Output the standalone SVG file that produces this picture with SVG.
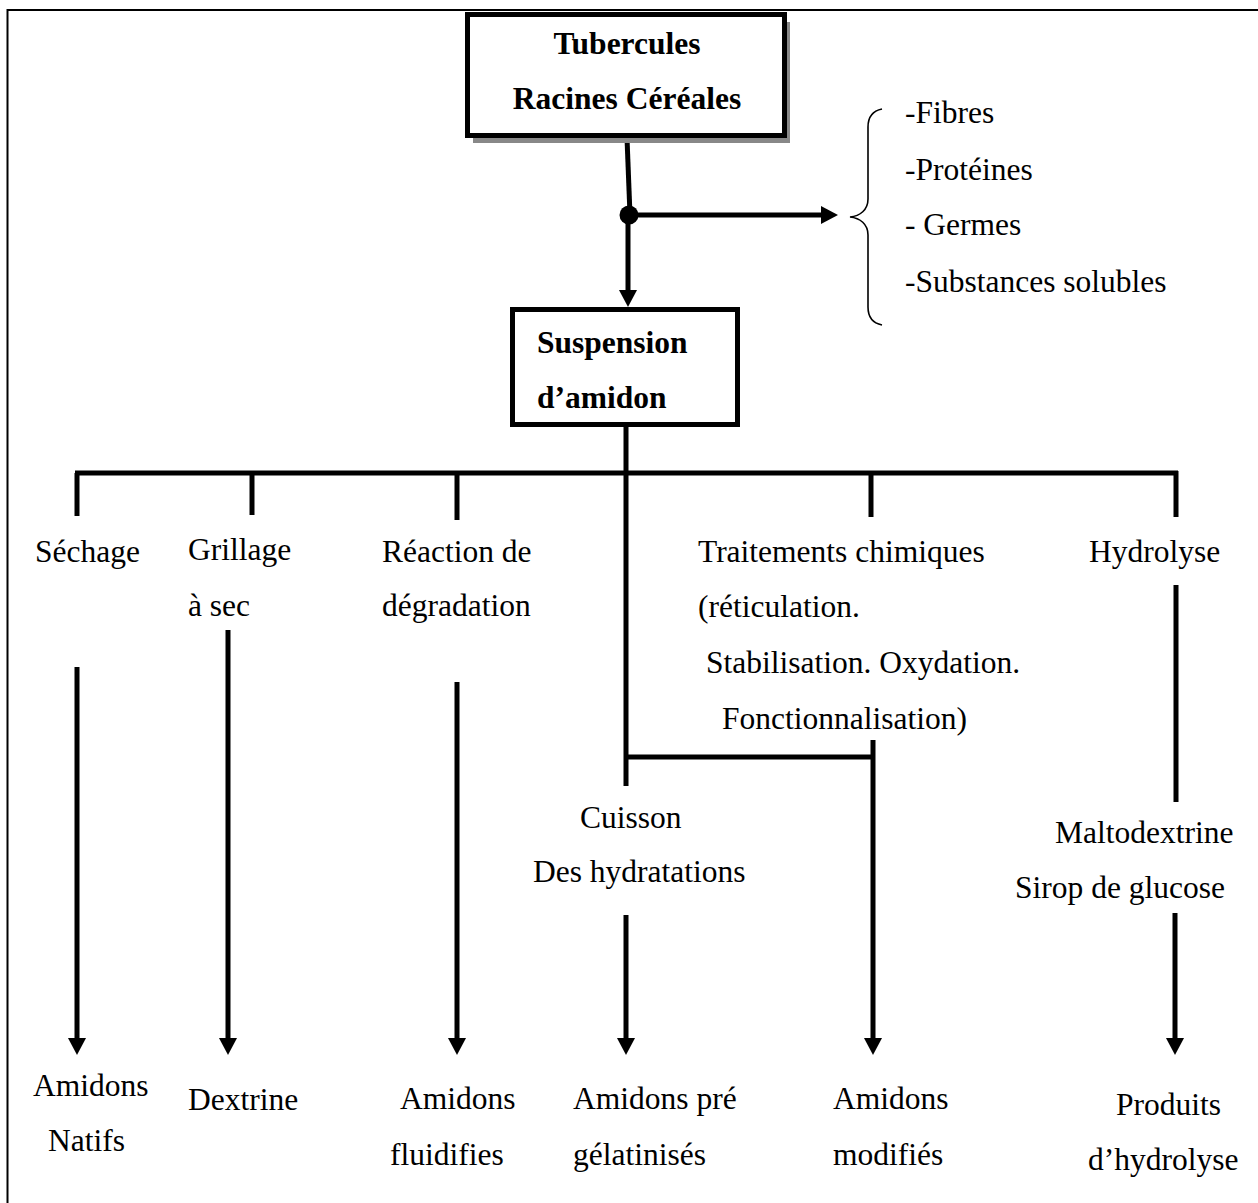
<svg xmlns="http://www.w3.org/2000/svg" width="1258" height="1203" viewBox="0 0 1258 1203">
<style>
text{font-family:"Liberation Serif","Times New Roman",serif;font-size:31.5px;fill:#000}
.b{font-weight:bold}
.c{text-anchor:middle}
.ln{stroke:#000;stroke-width:5;fill:none}
.box{stroke:#000;stroke-width:5;fill:#fff}
</style>
<defs>
<marker id="ah" markerUnits="userSpaceOnUse" markerWidth="18" markerHeight="18" refX="0" refY="9" orient="auto" viewBox="0 0 18 18">
<path d="M0,0 L17,9 L0,18 z" fill="#000"/>
</marker>
</defs>
<rect x="0" y="0" width="1258" height="1203" fill="#fff"/>
<g id="frame">
<path d="M7.5,1203 V10 H1258" stroke="#000" stroke-width="2" fill="none"/>
</g>
<g id="connectors">
<path class="ln" d="M627,138 L630,215"/>
<circle cx="629" cy="215" r="9.5" fill="#000"/>
<line class="ln" x1="629" y1="215" x2="821" y2="215" marker-end="url(#ah)"/>
<line class="ln" x1="628" y1="215" x2="628" y2="290" marker-end="url(#ah)"/>
<line class="ln" x1="626" y1="427" x2="626" y2="786"/>
<line class="ln" x1="75" y1="473" x2="1178" y2="473"/>
<line class="ln" x1="77" y1="473" x2="77" y2="516"/>
<line class="ln" x1="252" y1="473" x2="252" y2="515"/>
<line class="ln" x1="457" y1="473" x2="457" y2="520"/>
<line class="ln" x1="871" y1="473" x2="871" y2="517"/>
<line class="ln" x1="1176" y1="471" x2="1176" y2="517"/>
<line class="ln" x1="77" y1="667" x2="77" y2="1038" marker-end="url(#ah)"/>
<line class="ln" x1="228" y1="630" x2="228" y2="1038" marker-end="url(#ah)"/>
<line class="ln" x1="457" y1="682" x2="457" y2="1038" marker-end="url(#ah)"/>
<line class="ln" x1="626" y1="757" x2="875" y2="757"/>
<line class="ln" x1="626" y1="915" x2="626" y2="1038" marker-end="url(#ah)"/>
<line class="ln" x1="873" y1="740" x2="873" y2="1038" marker-end="url(#ah)"/>
<line class="ln" x1="1176" y1="585" x2="1176" y2="802"/>
<line class="ln" x1="1175" y1="913" x2="1175" y2="1038" marker-end="url(#ah)"/>
<path d="M882,109 C872,111 868,117 868,127 L868,199 C868,210 860,216 850,217 C860,218 868,224 868,235 L868,307 C868,317 872,323 882,325" stroke="#000" stroke-width="1.6" fill="none"/>
</g>
<g id="n-source">
<rect x="473" y="22" width="317" height="121" fill="#888"/>
<rect class="box" x="467.5" y="14.5" width="317" height="121"/>
<text class="b c" x="627" y="54">Tubercules</text>
<text class="b c" x="627" y="109">Racines Céréales</text>
</g>
<g id="n-byproducts">
<text x="905" y="123">-Fibres</text>
<text x="905" y="180">-Protéines</text>
<text x="905" y="235">- Germes</text>
<text x="905" y="292">-Substances solubles</text>
</g>
<g id="n-suspension">
<rect class="box" x="512.5" y="309.5" width="225" height="115"/>
<text class="b" x="537" y="353">Suspension</text>
<text class="b" x="537" y="408">d’amidon</text>
</g>
<g id="n-sechage"><text x="35" y="562">Séchage</text></g>
<g id="n-grillage"><text x="188" y="560">Grillage</text><text x="188" y="616">à sec</text></g>
<g id="n-reaction"><text x="382" y="562">Réaction de</text><text x="382" y="616">dégradation</text></g>
<g id="n-traitements">
<text x="698" y="562">Traitements chimiques</text>
<text x="698" y="617">(réticulation.</text>
<text x="706" y="673">Stabilisation. Oxydation.</text>
<text x="722" y="729">Fonctionnalisation)</text>
</g>
<g id="n-hydrolyse"><text x="1089" y="562">Hydrolyse</text></g>
<g id="n-cuisson"><text x="580" y="828">Cuisson</text><text x="533" y="882">Des hydratations</text></g>
<g id="n-malto"><text x="1055" y="843">Maltodextrine</text><text x="1015" y="898">Sirop de glucose</text></g>
<g id="n-natifs"><text x="33" y="1096">Amidons</text><text x="48" y="1151">Natifs</text></g>
<g id="n-dextrine"><text x="188" y="1110">Dextrine</text></g>
<g id="n-fluidifies"><text x="400" y="1109">Amidons</text><text x="390" y="1165">fluidifies</text></g>
<g id="n-gelatinises"><text x="573" y="1109">Amidons pré</text><text x="573" y="1165">gélatinisés</text></g>
<g id="n-modifies"><text x="833" y="1109">Amidons</text><text x="833" y="1165">modifiés</text></g>
<g id="n-produits"><text x="1116" y="1115">Produits</text><text x="1088" y="1170">d’hydrolyse</text></g>
</svg>
